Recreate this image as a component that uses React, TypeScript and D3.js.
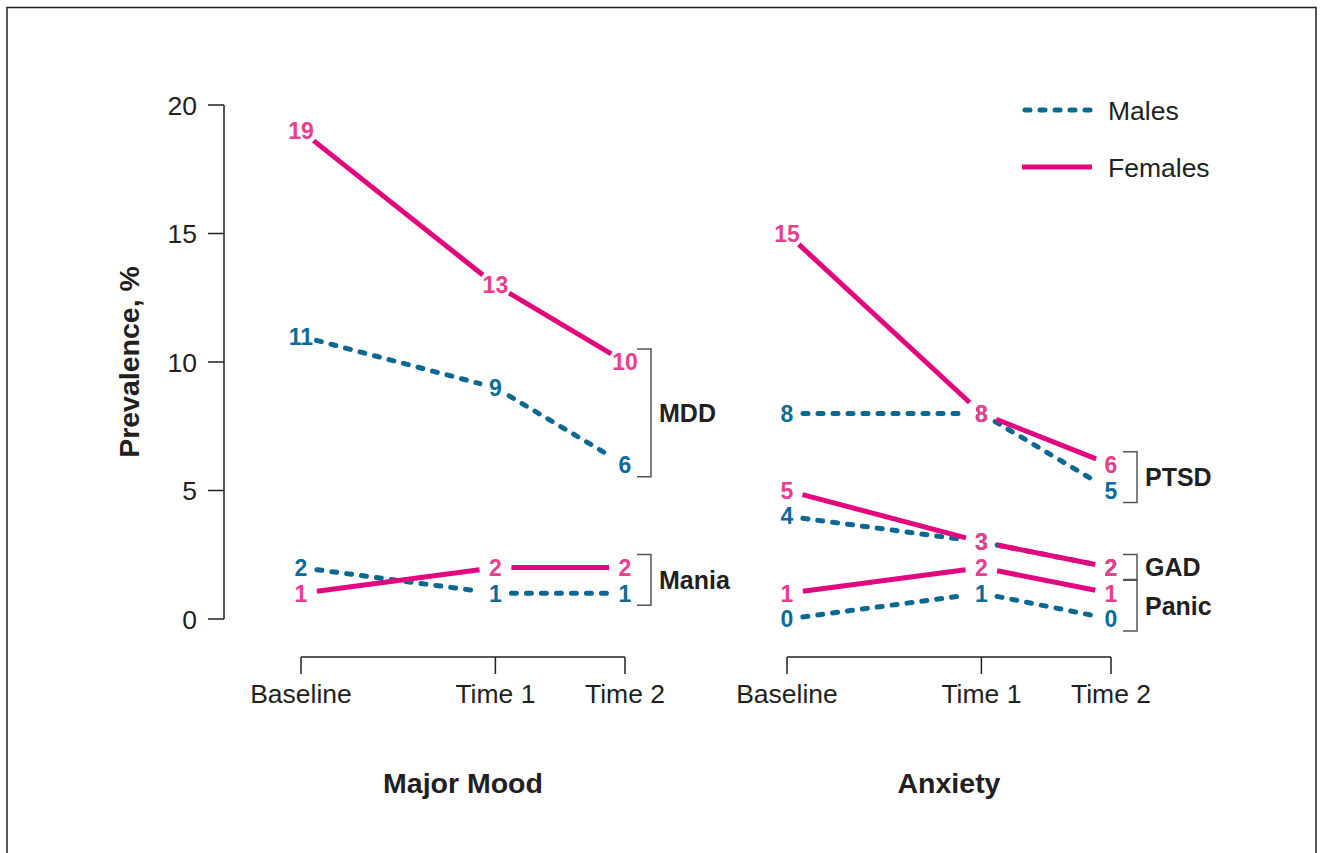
import React from "react";
import * as d3 from "d3";

const timepoints = ["Baseline", "Time 1", "Time 2"];
const timeValues = [0, 3, 5];
const yTicks = [0, 5, 10, 15, 20];
const panels = ["Major Mood", "Anxiety"];

// group name, panel index, female values, male values
const groupNames = ["MDD", "Mania", "PTSD", "GAD", "Panic"];
const groupPanel = [0, 0, 1, 1, 1];
const femaleValues = [
  [19, 13, 10],
  [1, 2, 2],
  [15, 8, 6],
  [5, 3, 2],
  [1, 2, 1],
];
const maleValues = [
  [11, 9, 6],
  [2, 1, 1],
  [8, 8, 5],
  [4, 3, 2],
  [0, 1, 0],
];
const legendLabels = ["Males", "Females"];

const FEMALE_LINE = "#e2067f";
const FEMALE_TEXT = "#ea3d8e";
const MALE_LINE = "#0b6893";
const MALE_TEXT = "#0d6c97";
const INK = "#231f20";
const FONT = "'Liberation Sans', Arial, Helvetica, sans-serif";

export default function App() {
  const W = 1324;
  const H = 853;
  const y = d3.scaleLinear().domain([0, 20]).range([619, 105]);
  const xScales = [
    d3.scaleLinear().domain([0, 5]).range([301, 625]),
    d3.scaleLinear().domain([0, 5]).range([787, 1111]),
  ];
  const line = d3.line<[number, number]>();
  const GAP = 16;

  const segments = (vals: number[], x: d3.ScaleLinear<number, number>) => {
    const pts = vals.map((v, i) => [x(timeValues[i]), y(v)] as [number, number]);
    const segs: string[] = [];
    for (let i = 0; i < pts.length - 1; i++) {
      const [x0, y0] = pts[i];
      const [x1, y1] = pts[i + 1];
      const len = Math.hypot(x1 - x0, y1 - y0);
      const ux = (x1 - x0) / len;
      const uy = (y1 - y0) / len;
      segs.push(
        line([
          [x0 + ux * GAP, y0 + uy * GAP],
          [x1 - ux * GAP, y1 - uy * GAP],
        ]) as string
      );
    }
    return { pts, segs };
  };

  return (
    <svg
      width={W}
      height={H}
      style={{ position: "absolute", left: 0, top: 0, background: "#fff" }}
      fontFamily={FONT}
    >
      <rect x={7} y={7.5} width={1309} height={900} fill="none" stroke={INK} strokeWidth={1.5} />

      {/* Y axis */}
      <line x1={224} x2={224} y1={y(20)} y2={y(0)} stroke={INK} strokeWidth={1.5} />
      {yTicks.map((t) => (
        <g key={t}>
          <line x1={208} x2={224} y1={y(t)} y2={y(t)} stroke={INK} strokeWidth={1.5} />
          <text x={197} y={y(t)} dy="0.36em" textAnchor="end" fontSize={26.5} fill={INK}>
            {t}
          </text>
        </g>
      ))}
      <text
        transform={`translate(139,${(y(0) + y(20)) / 2}) rotate(-90)`}
        textAnchor="middle"
        fontSize={28.5}
        fontWeight="bold"
        fill={INK}
      >
        Prevalence, %
      </text>

      {/* X axes and panel titles */}
      {xScales.map((x, pi) => (
        <g key={pi}>
          <line x1={x(0)} x2={x(5)} y1={657} y2={657} stroke={INK} strokeWidth={1.5} />
          {timepoints.map((tp, i) => (
            <g key={tp}>
              <line x1={x(timeValues[i])} x2={x(timeValues[i])} y1={657} y2={674} stroke={INK} strokeWidth={1.5} />
              <text x={x(timeValues[i])} y={703} textAnchor="middle" fontSize={26.5} fill={INK}>
                {tp}
              </text>
            </g>
          ))}
          <text x={(x(0) + x(5)) / 2} y={793} textAnchor="middle" fontSize={28.5} fontWeight="bold" fill={INK}>
            {panels[pi]}
          </text>
        </g>
      ))}

      {/* Lines */}
      {groupNames.map((g, gi) => {
        const x = xScales[groupPanel[gi]];
        const m = segments(maleValues[gi], x);
        const f = segments(femaleValues[gi], x);
        return (
          <g key={g}>
            {m.segs.map((d, i) => (
              <path
                key={"m" + i}
                d={d}
                fill="none"
                stroke={MALE_LINE}
                strokeWidth={5}
                strokeDasharray="5 10"
                strokeLinecap="round"
              />
            ))}
            {f.segs.map((d, i) => (
              <path key={"f" + i} d={d} fill="none" stroke={FEMALE_LINE} strokeWidth={5} />
            ))}
            {m.pts.map((p, i) => (
              <text
                key={"mt" + i}
                x={p[0]}
                y={p[1]}
                dy="0.36em"
                textAnchor="middle"
                fontSize={23}
                fontWeight="bold"
                fill={MALE_TEXT}
              >
                {maleValues[gi][i]}
              </text>
            ))}
            {f.pts.map((p, i) => (
              <text
                key={"ft" + i}
                x={p[0]}
                y={p[1]}
                dy="0.36em"
                textAnchor="middle"
                fontSize={23}
                fontWeight="bold"
                fill={FEMALE_TEXT}
              >
                {femaleValues[gi][i]}
              </text>
            ))}
          </g>
        );
      })}

      {/* Brackets */}
      {groupNames.map((g, gi) => {
        const x = xScales[groupPanel[gi]];
        const all = [...femaleValues[gi].slice(-1), ...maleValues[gi].slice(-1)];
        const top = y(d3.max(all) as number) - 13;
        const bot = y(d3.min(all) as number) + 12;
        const bx = x(5) + 26;
        return (
          <g key={"b" + g}>
            <path
              d={`M${bx - 14},${top}H${bx}V${bot}H${bx - 14}`}
              fill="none"
              stroke="#555"
              strokeWidth={1.5}
            />
            <text x={bx + 8} y={(top + bot) / 2} dy="0.36em" fontSize={25} fontWeight="bold" fill={INK}>
              {g}
            </text>
          </g>
        );
      })}

      {/* Legend */}
      <line x1={1025} x2={1093} y1={110} y2={110} stroke={MALE_LINE} strokeWidth={5} strokeDasharray="5 10" strokeLinecap="round" />
      <text x={1108} y={110} dy="0.36em" fontSize={26.5} fill={INK}>
        {legendLabels[0]}
      </text>
      <line x1={1022} x2={1092} y1={167} y2={167} stroke={FEMALE_LINE} strokeWidth={5} />
      <text x={1108} y={167} dy="0.36em" fontSize={26.5} fill={INK}>
        {legendLabels[1]}
      </text>
    </svg>
  );
}
